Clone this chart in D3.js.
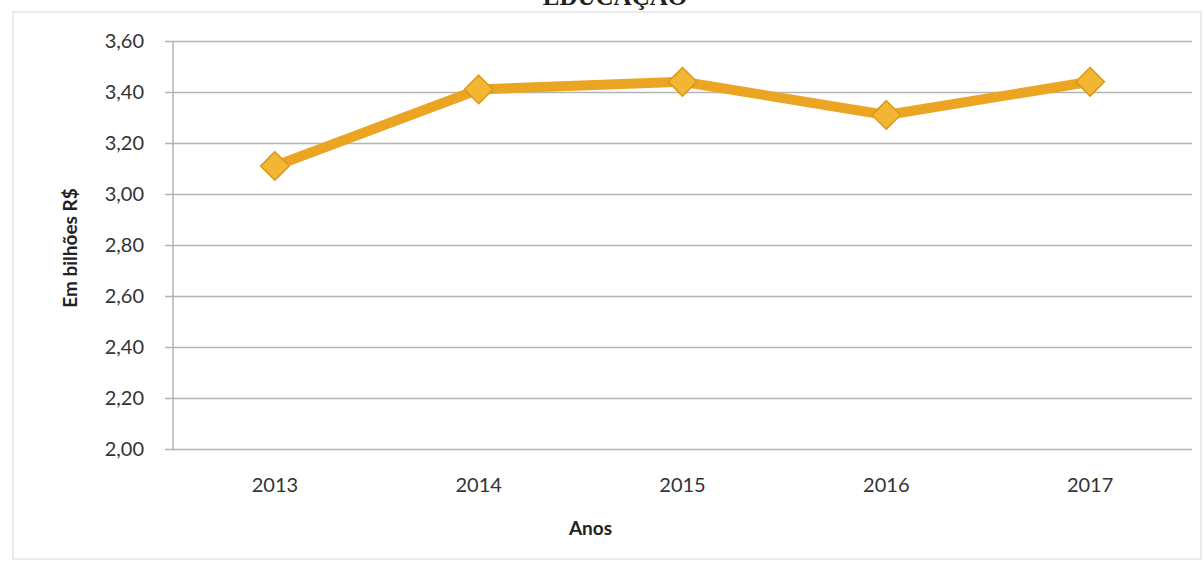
<!DOCTYPE html>
<meta charset="utf-8">
<style>
body { margin: 0; background: #fff; }
svg { display: block; }
.tick text { font-family: Lato, 'Liberation Sans', sans-serif; font-size: 20px; fill: #333; }
.axis-title { font-family: Lato, 'Liberation Sans', sans-serif; font-size: 19px; font-weight: 700; fill: #222; }
</style>
<body>
<svg width="1204" height="563"></svg>
<script src="https://cdn.jsdelivr.net/npm/d3@7"></script>
<script>

var years = ["2013", "2014", "2015", "2016", "2017"];
var values = [3.11, 3.41, 3.44, 3.31, 3.44];
var yTicks = [2.0, 2.2, 2.4, 2.6, 2.8, 3.0, 3.2, 3.4, 3.6];

var svg = d3.select("svg");

var margin = {left: 173, right: 12, top: 41, bottom: 114};
var width = 1204 - margin.left - margin.right,
    height = 563 - margin.top - margin.bottom;

// outer chart frame
svg.append("rect")
    .attr("x", 13).attr("y", 12)
    .attr("width", 1188).attr("height", 547)
    .attr("fill", "none")
    .attr("stroke", "#d8d8d8")
    .attr("stroke-width", 1);

// title, mostly cut off at the top of the picture
svg.append("text")
    .attr("x", 615).attr("y", 5)
    .attr("text-anchor", "middle")
    .style("font-family", "'Liberation Serif', serif")
    .style("font-weight", "700")
    .style("font-size", "25px")
    .style("fill", "#222")
    .text("EDUCAÇÃO");

var g = svg.append("g").attr("transform", "translate(" + margin.left + "," + margin.top + ")");

var x = d3.scaleBand().domain(years).range([0, width]);
var y = d3.scaleLinear().domain([2.0, 3.6]).range([height, 0]);

var fmt = function(d) { return d3.format(".2f")(d).replace(".", ","); };

// horizontal gridlines + y labels
var yAxis = g.append("g")
    .call(d3.axisLeft(y).tickValues(yTicks).tickSize(-width).tickPadding(29).tickFormat(fmt));
yAxis.select(".domain").remove();
yAxis.selectAll(".tick line")
    .attr("x1", -8)
    .attr("stroke", "#b4b4b4")
    .attr("stroke-width", 1.5);

// vertical axis line
g.append("line")
    .attr("x1", 0).attr("x2", 0)
    .attr("y1", 0).attr("y2", height)
    .attr("stroke", "#b4b4b4")
    .attr("stroke-width", 1.5);

// x labels
var xAxis = g.append("g")
    .attr("transform", "translate(0," + height + ")")
    .call(d3.axisBottom(x).tickSize(0).tickPadding(29));
xAxis.select(".domain").remove();

// axis titles
g.append("text")
    .attr("class", "axis-title")
    .attr("x", x("2015") + x.bandwidth() / 2 - 92)
    .attr("y", height + 86)
    .attr("text-anchor", "middle")
    .text("Anos");

g.append("text")
    .attr("class", "axis-title")
    .attr("transform", "translate(-96," + (height / 2 + 3) + ") rotate(-90)")
    .attr("text-anchor", "middle")
    .text("Em bilhões R$");

var data = years.map(function(d, i) { return {year: d, value: values[i]}; });

var line = d3.line()
    .x(function(d) { return x(d.year) + x.bandwidth() / 2; })
    .y(function(d) { return y(d.value); });

g.append("path")
    .datum(data)
    .attr("fill", "none")
    .attr("stroke", "#eca523")
    .attr("stroke-width", 10)
    .attr("stroke-linejoin", "round")
    .attr("d", line);

// diamond markers
var diamond = d3.symbol().type(d3.symbolDiamond2).size(520);
g.selectAll(".marker")
    .data(data)
    .enter().append("path")
    .attr("class", "marker")
    .attr("transform", function(d) { return "translate(" + (x(d.year) + x.bandwidth() / 2) + "," + y(d.value) + ")"; })
    .attr("d", diamond)
    .attr("fill", "#f3b632")
    .attr("stroke", "#d9981c")
    .attr("stroke-width", 1.5);

</script>
</body>
